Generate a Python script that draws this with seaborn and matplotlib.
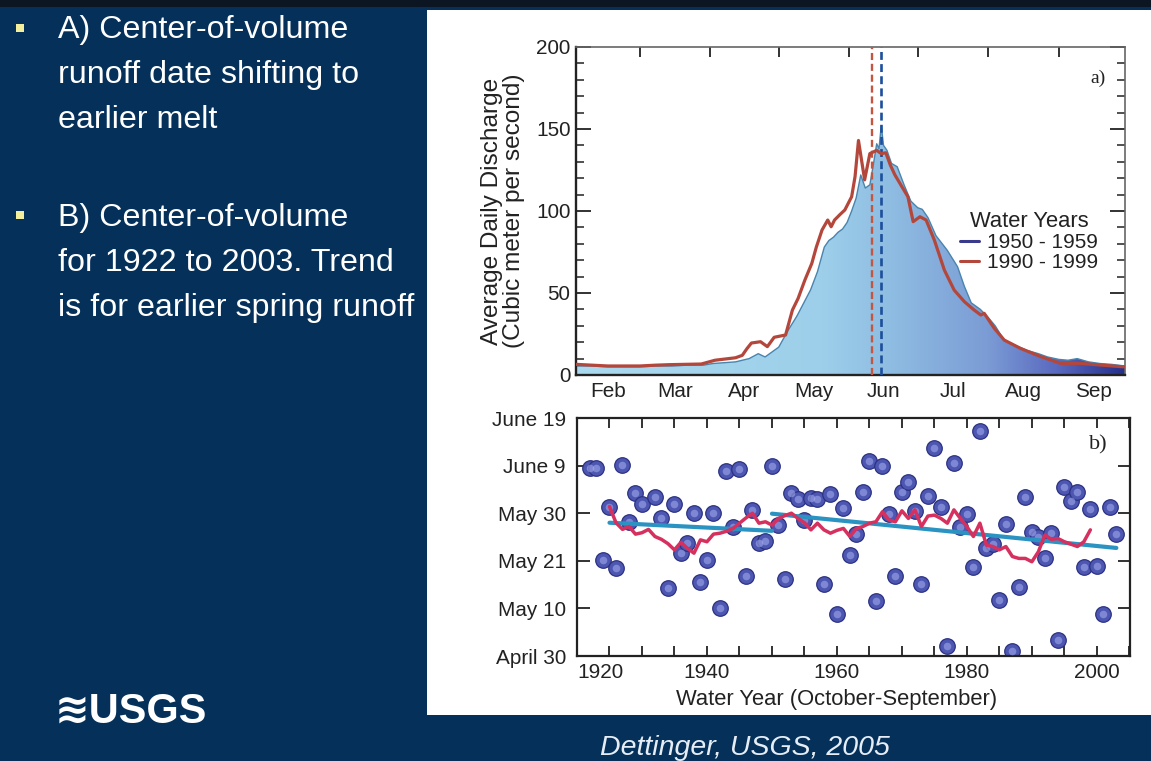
import matplotlib
matplotlib.use("Agg")
import numpy as np
import seaborn as sns
import matplotlib.pyplot as plt
from matplotlib import font_manager
from matplotlib.colors import LinearSegmentedColormap
from matplotlib.lines import Line2D
from matplotlib.patches import Rectangle
from matplotlib.ticker import MultipleLocator

# ---- panel a: average daily discharge, x = days after Feb 1 ----
days_5059 = [0, 7, 14, 21, 28, 35, 42, 49, 56, 60,
             65, 70, 73, 76, 80, 83, 86, 89, 93, 97,
             100, 103, 106, 109, 111, 113, 115, 117, 119, 121,
             123, 125, 127, 129, 130.5, 132, 133, 134, 135, 136.5,
             138.5, 141, 144, 147, 150, 152, 154.5, 158, 163, 167.5,
             170.5, 173.5, 177.5, 181, 184, 188, 193, 198, 203, 207,
             212, 216, 220, 225, 230, 235, 241]
flow_5059 = [5.5, 5.5, 5.0, 5.0, 5.0, 5.5, 5.5, 6.0, 6.0, 7.0,
             7.5, 8.0, 9.0, 10.0, 13.0, 11.0, 14.0, 17.0, 27.0, 36.0,
             44.0, 52.0, 63.0, 78.0, 82.0, 84.0, 87.0, 89.0, 93.0, 100.0,
             108.0, 122.0, 114.0, 116.0, 128.0, 141.0, 138.0, 152.0, 140.0, 137.0,
             129.0, 127.0, 116.0, 106.0, 102.0, 101.0, 96.0, 85.0, 76.0, 66.0,
             54.0, 44.0, 40.0, 35.0, 30.0, 21.0, 18.0, 15.0, 13.0, 11.0,
             9.5, 9.0, 10.0, 8.0, 7.0, 6.5, 5.5]

days_9099 = [0, 7, 14, 21, 28, 35, 41, 48, 55, 61,
             67, 70, 73, 75, 77, 81, 84, 87, 92, 95,
             97.5, 100.5, 103.5, 105.5, 108, 110.5, 112, 113.5, 116, 118,
             121, 122.5, 124, 126.7, 129, 130.5, 132, 134, 136, 138,
             140, 143.5, 145.7, 148, 151, 153.7, 157.3, 161.7, 166, 170.5,
             174.8, 177.7, 179.2, 183.6, 188, 195, 204, 212.7, 221.5, 230,
             239, 241]
flow_9099 = [6.5, 6.0, 5.5, 5.5, 5.5, 6.0, 6.3, 6.5, 6.7, 9.0,
             10.0, 10.5, 12.0, 16.0, 19.5, 20.3, 17.3, 23.0, 24.4, 39.6,
             46.7, 58.0, 68.0, 78.0, 88.4, 94.5, 90.4, 94.5, 98.0, 100.6,
             108.7, 121.0, 143.0, 119.0, 135.0, 136.0, 137.0, 135.0, 135.5, 128.0,
             122.0, 113.8, 108.7, 93.5, 96.5, 94.5, 82.3, 64.0, 51.8, 44.7,
             39.6, 36.6, 37.6, 28.5, 21.3, 16.3, 11.2, 7.1, 7.1, 6.1,
             5.1, 5.0]

cv_day_9099 = 130
cv_day_5059 = 134
month_names = ["Feb", "Mar", "Apr", "May", "Jun", "Jul", "Aug", "Sep"]
month_starts = [0, 28, 59, 89, 120, 150, 181, 212, 242]

# ---- panel b: center-of-volume date, y = days after April 30 ----
cv_years = [y for y in range(1922, 2004) if y != 1931]
cv_date = [39.6, 39.5, 20.1, 31.4, 18.4, 40.2, 28.1, 34.2, 31.9,
           33.4, 28.9, 14.2, 32.0, 21.6, 23.7, 30.1, 15.5, 20.1, 30.1,
           10.0, 38.8, 27.2, 39.3, 16.9, 30.6, 23.8, 24.2, 40.0, 27.6,
           16.2, 34.2, 33.0, 28.5, 33.1, 33.0, 15.1, 34.1, 8.9, 31.1,
           21.2, 25.7, 34.4, 40.9, 11.5, 40.0, 29.9, 16.8, 34.4, 36.6,
           30.4, 15.1, 33.7, 43.7, 31.3, 2.1, 40.6, 27.2, 29.9, 18.8,
           47.2, 22.7, 23.5, 11.7, 27.7, 1.1, 14.6, 33.5, 26.0, 25.1,
           20.6, 25.9, 3.3, 35.5, 32.6, 34.4, 18.8, 30.8, 19.0, 8.9,
           31.2, 25.7]

ma_years = list(range(1925, 2000))
ma_date = [31.4, 28.0, 26.6, 27.2, 25.6, 25.9, 26.6, 25.1, 24.5, 23.6,
           22.3, 23.9, 22.6, 21.6, 24.4, 24.0, 25.6, 25.8, 26.2, 26.8,
           27.9, 29.0, 30.0, 27.9, 28.2, 27.5, 28.9, 29.5, 30.0, 28.9,
           28.0, 26.5, 27.9, 26.5, 25.8, 26.4, 26.8, 25.1, 26.8, 27.2,
           27.9, 28.2, 30.3, 28.6, 28.2, 30.5, 28.9, 30.7, 27.2, 29.4,
           29.6, 28.9, 27.9, 30.7, 28.9, 27.2, 25.1, 27.9, 23.3, 23.0,
           22.3, 23.0, 20.9, 20.5, 20.5, 19.8, 21.9, 25.4, 24.5, 24.7,
           24.0, 23.5, 23.0, 24.0, 26.5]

trend1_years = [1925, 1950]
trend1_date = [28.0, 26.3]
trend2_years = [1950, 2003]
trend2_date = [29.9, 22.7]

date_ticks = [0, 10, 20, 30, 40, 50]
date_labels = ["April 30", "May 10", "May 21", "May 30", "June 9", "June 19"]

left_lines_a = ["A) Center-of-volume", "runoff date shifting to", "earlier melt"]
left_lines_b = ["B) Center-of-volume", "for 1922 to 2003. Trend", "is for earlier spring runoff"]

# ---- fonts ----
available = {f.name for f in font_manager.fontManager.ttflist}
if "Liberation Sans Narrow" in available:
    narrow, k = "Liberation Sans Narrow", 1.0
else:
    narrow, k = "Liberation Sans", 0.88

sns.set_theme(style="white")
plt.rcParams["font.family"] = [narrow, "DejaVu Sans"]

W, H = 1151, 761
fig = plt.figure(figsize=(W / 100, H / 100), dpi=100)
navy = "#04305a"
fig.patch.set_facecolor(navy)

def fx(px):
    return px / W

def fy(py):
    return 1 - py / H

# white panel + dark top strip
fig.add_artist(Rectangle((fx(427), fy(715)), fx(1151) - fx(427), fy(10) - fy(715),
                         transform=fig.transFigure, facecolor="white", edgecolor="none", zorder=-5))
fig.add_artist(Rectangle((0, fy(7)), 1, fy(0) - fy(7), transform=fig.transFigure,
                         facecolor="#0b1622", edgecolor="none", zorder=-4))

ink = "#222222"

# ================= panel a =================
ax_a = fig.add_axes([fx(576), fy(375), fx(1125) - fx(576), fy(47) - fy(375)])
ax_a.set_facecolor("none")

flow_cmap = LinearSegmentedColormap.from_list(
    "flow", [(0.0, "#aadaef"), (0.45, "#9dcfea"), (0.6, "#8cb8e0"),
             (0.75, "#7b9cd5"), (0.88, "#5968bf"), (1.0, "#25308c")])
poly = ax_a.fill_between(days_5059, flow_5059, 0, facecolor="none", edgecolor="none")
grad = np.linspace(0, 1, 256).reshape(1, -1)
im = ax_a.imshow(grad, extent=[0, 241, 0, 200], aspect="auto", cmap=flow_cmap,
                 origin="lower", zorder=1)
im.set_clip_path(poly.get_paths()[0], transform=ax_a.transData)

sns.lineplot(x=days_5059, y=flow_5059, ax=ax_a, color="#4a84ad", lw=1.0, zorder=2)
sns.lineplot(x=days_9099, y=flow_9099, ax=ax_a, color="#b4473b", lw=2.3, zorder=4)
ax_a.axvline(cv_day_9099, color="#c4563f", ls=(0, (3, 1.6)), lw=1.7, zorder=3)
ax_a.axvline(cv_day_5059, color="#1c4f9c", ls=(0, (3, 1.6)), lw=1.9, zorder=3)

ax_a.set_xlim(0, 241)
ax_a.set_ylim(0, 200)
mids = [(a + b) / 2 for a, b in zip(month_starts[:-1], month_starts[1:])]
ax_a.set_xticks(month_starts[1:-1])
ax_a.set_xticklabels([])
ax_a.set_xticks(mids, minor=True)
ax_a.set_xticklabels(month_names, minor=True)
ax_a.tick_params(axis="x", which="major", direction="in", length=7, width=1.3,
                 top=True, bottom=True, color=ink)
ax_a.tick_params(axis="x", which="minor", length=0, pad=5, labelsize=17 * k, labelcolor=ink)
ax_a.set_yticks([0, 50, 100, 150, 200])
ax_a.yaxis.set_minor_locator(MultipleLocator(10))
ax_a.tick_params(axis="y", which="major", direction="in", length=11, width=1.3,
                 left=True, right=True, pad=4, labelsize=17 * k, labelcolor=ink, color=ink)
ax_a.tick_params(axis="y", which="minor", direction="in", length=6, width=1.1,
                 left=True, right=True, color=ink)
ax_a.set_xlabel("")
ax_a.set_ylabel("Average Daily Discharge\n(Cubic meter per second)", fontsize=20 * k,
                color=ink, linespacing=1.0)
ax_a.yaxis.set_label_coords(-0.093, 0.5)
for side in ["left", "bottom"]:
    ax_a.spines[side].set_color(ink)
    ax_a.spines[side].set_linewidth(1.7)
for side in ["top", "right"]:
    ax_a.spines[side].set_color("#666666")
    ax_a.spines[side].set_linewidth(1.2)

handles = [Line2D([], [], color="#3a3a8c", lw=2.2), Line2D([], [], color="#b4473b", lw=2.2)]
leg = ax_a.legend(handles, ["1950 - 1959", "1990 - 1999"], title="Water Years",
                  loc="upper left", bbox_to_anchor=(0.70, 0.50), frameon=False,
                  fontsize=17 * k, title_fontsize=18 * k, handlelength=0.9,
                  handletextpad=0.4, labelspacing=0.05, borderpad=0, borderaxespad=0)
for t in leg.get_texts():
    t.set_color(ink)
leg.get_title().set_color(ink)
ax_a.text(0.95, 0.905, "a)", transform=ax_a.transAxes, family="Liberation Serif",
          fontsize=14, color=ink, ha="center", va="center")

# ================= panel b =================
ax_b = fig.add_axes([fx(577), fy(656), fx(1130) - fx(577), fy(418) - fy(656)])
ax_b.set_facecolor("none")
sns.scatterplot(x=cv_years, y=cv_date, ax=ax_b, s=125, color="#4d57b2",
                edgecolor="#2c3282", linewidth=0.9, zorder=2)
sns.scatterplot(x=cv_years, y=cv_date, ax=ax_b, s=30, color="#a7afef",
                alpha=0.55, linewidth=0, zorder=3)
sns.lineplot(x=trend1_years, y=trend1_date, ax=ax_b, color="#2a93c2", lw=3, zorder=4)
sns.lineplot(x=trend2_years, y=trend2_date, ax=ax_b, color="#2a93c2", lw=3, zorder=4)
sns.lineplot(x=ma_years, y=ma_date, ax=ax_b, color="#d6305f", lw=2.5, zorder=5)

ax_b.set_xlim(1920, 2005.1)
ax_b.set_ylim(0, 50)
ax_b.set_xticks([1920, 1940, 1960, 1980, 2000])
ax_b.xaxis.set_minor_locator(MultipleLocator(5))
ax_b.tick_params(axis="x", which="both", direction="in", length=7, width=1.3,
                 top=True, bottom=True, pad=5, labelsize=17 * k, labelcolor=ink, color=ink)
ax_b.set_yticks(date_ticks)
ax_b.set_yticklabels(date_labels)
ax_b.tick_params(axis="y", which="major", direction="in", length=9, width=1.3,
                 left=True, right=True, pad=8, labelsize=17 * k, labelcolor=ink, color=ink)
ax_b.get_xticklabels()[0].set_horizontalalignment("left")
ax_b.set_ylabel("")
ax_b.set_xlabel("Water Year (October-September)", fontsize=18 * k, color=ink)
ax_b.xaxis.set_label_coords(0.469, -0.14)
for side in ax_b.spines:
    ax_b.spines[side].set_color(ink)
    ax_b.spines[side].set_linewidth(1.6)
ax_b.text(0.943, 0.887, "b)", transform=ax_b.transAxes, family="Liberation Serif",
          fontsize=16, color=ink, ha="center", va="center")

# ================= slide text =================
for i, line in enumerate(left_lines_a):
    fig.text(fx(58), fy(30 + 45 * i), line, color="white", fontsize=23.2,
             family=["Liberation Sans", "DejaVu Sans"], va="center", ha="left")
for i, line in enumerate(left_lines_b):
    fig.text(fx(58), fy(218 + 45 * i), line, color="white", fontsize=23.2,
             family=["Liberation Sans", "DejaVu Sans"], va="center", ha="left")
for by in [28, 215]:
    fig.add_artist(Rectangle((fx(16), fy(by + 4)), fx(8), fy(by - 4) - fy(by + 4),
                             transform=fig.transFigure, facecolor="#f3ef9c",
                             edgecolor="none"))
fig.text(fx(55), fy(712), "\u224bUSGS", color="white", fontsize=34 * k, weight="bold",
         va="center", ha="left")
fig.text(fx(745), fy(748), "Dettinger, USGS, 2005", color="#e6edf5", fontsize=25 * 0.82,
         style="italic", va="center", ha="center")

fig.savefig("out.png", dpi=100, facecolor=fig.get_facecolor())
